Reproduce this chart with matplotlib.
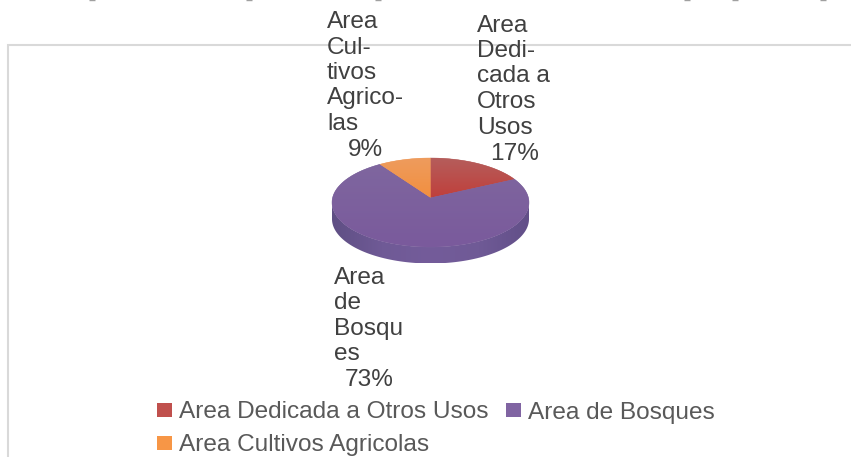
import numpy as np
import matplotlib
matplotlib.use("Agg")
import matplotlib.pyplot as plt
from matplotlib.colors import LinearSegmentedColormap as LSC
from matplotlib.patches import Polygon, Rectangle

categories = ["Area Dedicada a Otros Usos", "Area de Bosques", "Area Cultivos Agricolas"]
values = [17, 73, 9]
label_lines = [["Area", "Dedi-", "cada a", "Otros", "Usos"],
               ["Area", "de", "Bosqu", "es"],
               ["Area", "Cul-", "tivos", "Agrico-", "las"]]
percent_labels = ["17%", "73%", "9%"]
top_colors = [("#B55E5C", "#C03F3B"), ("#7F679F", "#7A5A9C"), ("#EE9C5E", "#F28F3F")]
legend_colors = ["#C0504D", "#8064A2", "#F79646"]

W, H = 851, 457
plt.rcParams["font.family"] = ["Liberation Sans", "DejaVu Sans"]
fig = plt.figure(figsize=(W / 100, H / 100), dpi=100, facecolor="white")
bg = fig.add_axes([0, 0, 1, 1])
bg.set_xlim(0, W); bg.set_ylim(H, 0); bg.axis("off")

# frame
bg.plot([8, 8, W], [H, 44.5, 44.5], color="#D9D9D9", lw=1.5, solid_joinstyle="miter")

# descender fragments of the clipped line above the chart
for x in [92, 249, 378, 687, 735, 823]:
    bg.plot([x - 3, x + 3], [0.4, 0.4], color="#A0A0A0", lw=1.0, solid_capstyle="butt")

# pie
cx, cy, a, b, depth = 430.5, 202.5, 98.5, 44.5, 16.5
m = 1.05
d = depth / b
left = cx - m * a; right = cx + m * a
top = cy - m * b; bottom = cy + (1 + d + .05) * b
ax = fig.add_axes([left / W, 1 - bottom / H, (right - left) / W, (bottom - top) / H], zorder=1)
wedges, _ = ax.pie(values, startangle=90, counterclock=False, radius=1)
ax.set_aspect("auto")
ax.set_xlim(-m, m); ax.set_ylim(-1 - d - .05, m)
ax.axis("off")

# side wall
t = np.radians(np.linspace(180, 360, 200))
wall = np.r_[np.c_[np.cos(t), np.sin(t)], np.c_[np.cos(t[::-1]), np.sin(t[::-1]) - d]]
wall_patch = Polygon(wall, closed=True, fc="none", ec="none", transform=ax.transData)
ax.add_patch(wall_patch)
wall_cmap = LSC.from_list("wall", ["#5F4F84", "#6F5A96", "#745C9A", "#6F5A96", "#624F88"])
im = ax.imshow(np.linspace(0, 1, 256)[None, :], cmap=wall_cmap, extent=(-1, 1, -1 - d, 0),
               aspect="auto", zorder=1)
im.set_clip_path(wall_patch)

# slices near the back look narrower because of the tilt of the 3-D view
TILT = 0.945
def tilted(theta):
    phi = (90 - theta) % 360
    phi = TILT * phi if phi < 180 else 360 - TILT * (360 - phi)
    return 90 - phi

# top surface, apex slightly above the ellipse centre
apex = (0, 0.108)
for i, (w, (c1, c2)) in enumerate(zip(wedges, top_colors)):
    w.set_visible(False)
    t1, t2 = tilted(w.theta1), tilted(w.theta2)
    if t2 < t1:
        t1 -= 360
    th = np.radians(np.linspace(t1, t2, 200))
    pts = np.r_[[apex], np.c_[np.cos(th), np.sin(th)]]
    p = Polygon(pts, closed=True, fc=c1, ec=c1, lw=0.3, transform=ax.transData, zorder=2)
    ax.add_patch(p)
    cmap = LSC.from_list("s", [c2, c1])
    g = ax.imshow(np.linspace(0, 1, 128)[:, None], cmap=cmap, origin="lower",
                  extent=(-1, 1, -1, 1) if i == 1 else (-1, 1, 0.1, 1),
                  aspect="auto", zorder=3)
    g.set_clip_path(p)
ax.set_xlim(-m, m); ax.set_ylim(-1 - d - .05, m)

# data labels
LBL = "#404040"
FS = 17.6
def block(x, lines, baselines, pct, px, py):
    for s, y in zip(lines, baselines):
        bg.text(x, y, s, fontsize=FS, color=LBL, ha="left", va="baseline", zorder=5)
    bg.text(px, py, pct, fontsize=FS, color=LBL, ha="left", va="baseline", zorder=5)

bg.set_zorder(2)
block(477, label_lines[0], [32, 57, 82, 108, 134], percent_labels[0], 490, 160)
block(334, label_lines[1], [284, 309, 335, 360], percent_labels[1], 345, 386)
block(327, label_lines[2], [28, 54, 79, 104, 130], percent_labels[2], 348, 156)

# legend
swatches = [(157, 403), (506, 403), (157, 436)]
for (x, y), c, name in zip(swatches, legend_colors, categories):
    bg.add_patch(Rectangle((x, y), 15, 14, fc=c, ec="none"))
    bg.text(x + 22, y + 15.5, name, fontsize=FS, color="#595959", ha="left", va="baseline")

fig.savefig("out.png", dpi=100, facecolor="white")
